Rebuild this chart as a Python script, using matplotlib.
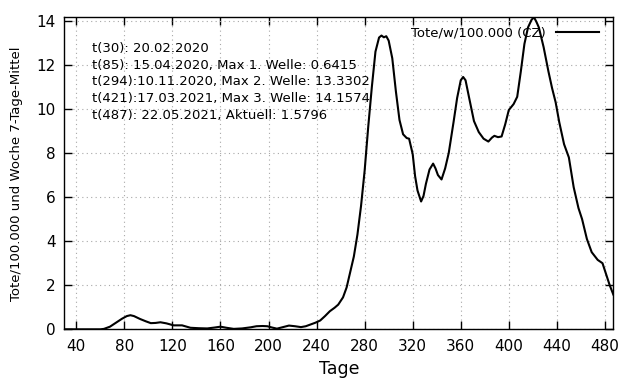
import matplotlib
matplotlib.use("Agg")
import matplotlib.pyplot as plt

days = [30, 60, 63, 68, 73, 78, 82, 85, 88, 93, 98, 102, 106, 110, 115, 121, 128, 135,
        142, 149, 155, 160, 165, 171, 178, 185, 190, 195, 199, 203, 207, 212, 217, 222,
        227, 231, 235, 239, 243, 247, 251, 255, 258, 262, 265, 268, 271, 274, 277, 280,
        283, 286, 289, 292, 294, 296, 298, 300, 303, 306, 309, 312, 315, 317, 320, 322,
        324, 327, 329, 331, 334, 337, 339, 341, 344, 347, 350, 354, 357, 360, 362, 364,
        367, 371, 375, 379, 383, 386, 388, 391, 394, 397, 400, 404, 407, 410, 413, 416,
        419, 421, 423, 425, 429, 433, 436, 439, 442, 446, 450, 454, 458, 461, 465, 469,
        474, 478, 481, 484, 487]
deaths = [0, 0, 0.02, 0.12, 0.3, 0.48, 0.6, 0.64, 0.6, 0.47, 0.36, 0.28, 0.29, 0.32, 0.27,
          0.18, 0.18, 0.07, 0.05, 0.04, 0.08, 0.12, 0.07, 0.02, 0.04, 0.09, 0.14, 0.15,
          0.14, 0.08, 0.03, 0.1, 0.17, 0.14, 0.1, 0.14, 0.22, 0.3, 0.4, 0.6, 0.82, 0.98,
          1.12, 1.45, 1.9, 2.6, 3.3, 4.3, 5.6, 7.2, 9.2, 11.0, 12.6, 13.24, 13.33, 13.25,
          13.3, 13.1, 12.3, 10.8, 9.5, 8.85, 8.68, 8.65, 7.95, 6.95, 6.3, 5.8, 6.05, 6.6,
          7.25, 7.52, 7.3, 7.0, 6.8, 7.3, 8.0, 9.4, 10.5, 11.3, 11.45, 11.3, 10.5, 9.45,
          8.95, 8.65, 8.52, 8.7, 8.78, 8.72, 8.75, 9.3, 9.95, 10.22, 10.55, 11.7, 12.95,
          13.7, 14.05, 14.1574, 13.95, 13.7, 12.8, 11.7, 10.95, 10.3, 9.4, 8.4, 7.8, 6.45,
          5.5, 5.0, 4.1, 3.5, 3.15, 3.0, 2.5, 2.0, 1.5796]

x_ticks = list(range(40, 481, 40))
y_ticks = list(range(0, 15, 2))
annotations = [
    "t(30): 20.02.2020",
    "t(85): 15.04.2020, Max 1. Welle: 0.6415",
    "t(294):10.11.2020, Max 2. Welle: 13.3302",
    "t(421):17.03.2021, Max 3. Welle: 14.1574",
    "t(487): 22.05.2021, Aktuell: 1.5796",
]

plt.rcParams['font.family'] = ['DejaVu Sans']
fig = plt.figure(figsize=(6.4, 3.84), dpi=100)
ax = fig.add_axes([0.1005, 0.1424, 0.8578, 0.8125])

ax.plot(days, deaths, color='black', lw=1.5, label='Tote/w/100.000 (CZ)', zorder=3)
ax.set_xlim(30, 487)
ax.set_ylim(0, 14.1574)
ax.set_xticks(x_ticks)
ax.set_yticks(y_ticks)
ax.tick_params(direction='in', length=6, width=1, top=True, right=True,
               labelsize=11, pad=6, colors='black')
ax.tick_params(axis='x', pad=7)
ax.grid(True, color='#a8a8a8', linestyle=(0, (1, 3)), linewidth=0.8)
for s in ax.spines.values():
    s.set_linewidth(1)

ax.set_xlabel('Tage', fontsize=12.5, labelpad=4)
ax.set_ylabel('Tote/100.000 und Woche 7-Tage-Mittel', fontsize=9.5, labelpad=10)

ax.text(0.05, 0.92, "\n".join(annotations), transform=ax.transAxes, fontsize=9.5,
        va='top', ha='left', linespacing=1.36)

leg = ax.legend(loc='upper right', frameon=False, markerfirst=False, fontsize=9.5,
                handlelength=3.2, borderaxespad=0.3, handletextpad=0.8,
                bbox_to_anchor=(0.99, 1.0))

fig.savefig('out.png', dpi=100)
